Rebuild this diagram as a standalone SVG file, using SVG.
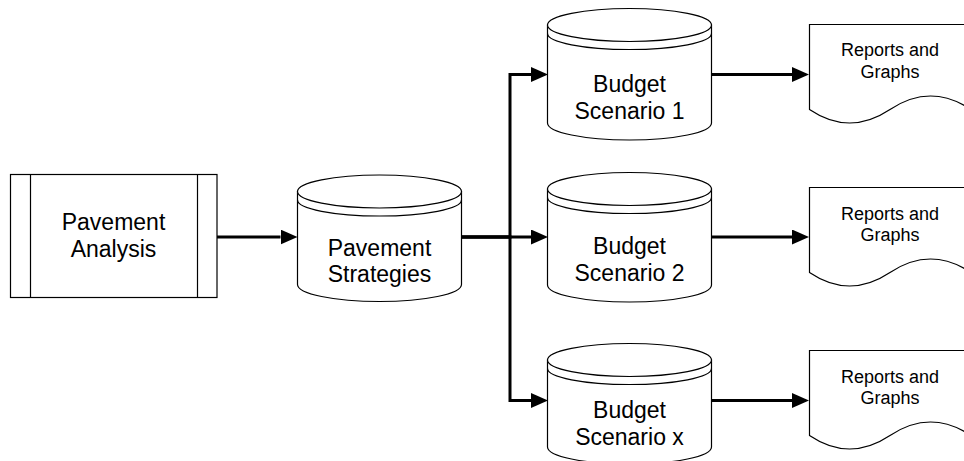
<svg xmlns="http://www.w3.org/2000/svg" width="964" height="461" viewBox="0 0 964 461">
<style>
.shape{fill:#fff;stroke:#000;stroke-width:1.2}
.line{fill:none;stroke:#000;stroke-width:1.2}
.conn{fill:none;stroke:#000;stroke-width:3;stroke-linejoin:miter}
.big{font-family:"Liberation Sans",Arial,sans-serif;font-size:23px;fill:#000;text-anchor:middle}
.small{font-family:"Liberation Sans",Arial,sans-serif;font-size:18px;fill:#000;text-anchor:middle}
</style>
<defs>
<marker id="arrow" markerUnits="userSpaceOnUse" markerWidth="18" markerHeight="16" refX="0" refY="7.5" orient="auto" viewBox="0 0 18 16">
<path d="M0,0 L17,7.5 L0,15 Z" fill="#000"/>
</marker>
</defs>
<rect width="964" height="461" fill="#fff"/>

<g id="pavement-analysis">
<rect class="shape" x="10.5" y="174.5" width="206.5" height="123"/>
<line class="line" x1="30.5" y1="174.5" x2="30.5" y2="297.5"/>
<line class="line" x1="197.5" y1="174.5" x2="197.5" y2="297.5"/>
<text class="big" x="113.5" y="230">Pavement</text>
<text class="big" x="113.5" y="257">Analysis</text>
</g>

<g id="pavement-strategies">
<path class="shape" d="M297.5,191.5 V284.5 A82,17 0 0 0 461.5,284.5 V191.5 Z"/>
<ellipse class="shape" cx="379.5" cy="191.5" rx="82" ry="16.5"/>
<path class="line" d="M297.5,200 A82,16 0 0 0 461.5,200"/>
<text class="big" x="379.5" y="256">Pavement</text>
<text class="big" x="379.5" y="282">Strategies</text>
</g>

<g id="budget-scenario-1">
<path class="shape" d="M547.5,25 V123 A82,17 0 0 0 711.5,123 V25 Z"/>
<ellipse class="shape" cx="629.5" cy="25" rx="82" ry="16.5"/>
<path class="line" d="M547.5,33.5 A82,16 0 0 0 711.5,33.5"/>
<text class="big" x="629.5" y="91.5">Budget</text>
<text class="big" x="629.5" y="118.5">Scenario 1</text>
</g>

<g id="budget-scenario-2">
<path class="shape" d="M547.5,189 V285 A82,17 0 0 0 711.5,285 V189 Z"/>
<ellipse class="shape" cx="629.5" cy="189" rx="82" ry="16.5"/>
<path class="line" d="M547.5,197.5 A82,16 0 0 0 711.5,197.5"/>
<text class="big" x="629.5" y="253.5">Budget</text>
<text class="big" x="629.5" y="281">Scenario 2</text>
</g>

<g id="budget-scenario-x">
<path class="shape" d="M547.5,360 V447 A82,17 0 0 0 711.5,447 V360 Z"/>
<ellipse class="shape" cx="629.5" cy="360" rx="82" ry="16.5"/>
<path class="line" d="M547.5,368.5 A82,16 0 0 0 711.5,368.5"/>
<text class="big" x="629.5" y="417.5">Budget</text>
<text class="big" x="629.5" y="444.5">Scenario x</text>
</g>

<g id="reports-1">
<path class="shape" d="M809.5,24.5 H971 V109.5 Q930.5,82.5 890,109.5 Q849.5,136.5 809.5,109.5 Z"/>
<text class="small" x="890" y="56">Reports and</text>
<text class="small" x="890" y="77.5">Graphs</text>
</g>

<g id="reports-2">
<path class="shape" d="M809.5,187.5 H971 V272.5 Q930.5,245.5 890,272.5 Q849.5,299.5 809.5,272.5 Z"/>
<text class="small" x="890" y="219.5">Reports and</text>
<text class="small" x="890" y="241">Graphs</text>
</g>

<g id="reports-3">
<path class="shape" d="M809.5,350.5 H971 V435.5 Q930.5,408.5 890,435.5 Q849.5,462.5 809.5,435.5 Z"/>
<text class="small" x="890" y="382.5">Reports and</text>
<text class="small" x="890" y="404">Graphs</text>
</g>

<g id="connectors">
<path class="conn" d="M217,237 H280.5" marker-end="url(#arrow)"/>
<path class="conn" d="M461.5,237 H510 V74.5 H531" marker-end="url(#arrow)"/>
<path class="conn" d="M461.5,237 H531" marker-end="url(#arrow)"/>
<path class="conn" d="M461.5,237 H510 V400.5 H531" marker-end="url(#arrow)"/>
<path class="conn" d="M711.5,74.5 H792" marker-end="url(#arrow)"/>
<path class="conn" d="M711.5,237 H792" marker-end="url(#arrow)"/>
<path class="conn" d="M711.5,400.5 H792" marker-end="url(#arrow)"/>
</g>
</svg>
